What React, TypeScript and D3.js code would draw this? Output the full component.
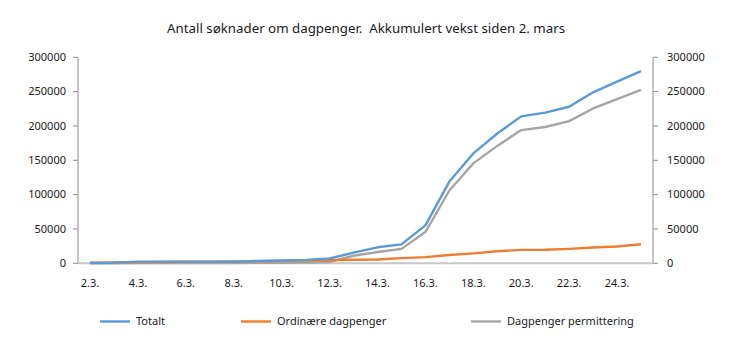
import React from "react";
import * as d3 from "d3";

const categories = ["2.3.","3.3.","4.3.","5.3.","6.3.","7.3.","8.3.","9.3.","10.3.","11.3.","12.3.","13.3.","14.3.","15.3.","16.3.","17.3.","18.3.","19.3.","20.3.","21.3.","22.3.","23.3.","24.3.","25.3."];
const tickLabelsX = ["2.3.","4.3.","6.3.","8.3.","10.3.","12.3.","14.3.","16.3.","18.3.","20.3.","22.3.","24.3."];
const totalt = [500,1000,2500,2500,2500,2500,2500,3500,4000,5000,7000,15500,23300,27500,55300,119000,160000,189000,214000,219500,228000,249000,264500,280000];
const ordinaere = [1000,1200,1500,2000,2200,2400,2600,3000,3500,4000,4500,5200,5600,7500,9000,12000,14500,17500,19500,19700,21000,23000,24500,27700];
const permittering = [0,0,500,500,500,500,500,600,700,1000,2000,11000,16500,21000,45500,106000,145500,171000,194000,198500,207000,225500,239000,252500];
const yTicks = [0,50000,100000,150000,200000,250000,300000];
const title = "Antall søknader om dagpenger.  Akkumulert vekst siden 2. mars";
const seriesNames = ["Totalt","Ordinære dagpenger","Dagpenger permittering"];
const colors = ["#5b9bd5","#ed7d31","#a5a5a5"];

export default function App() {
  const W = 730, H = 346;
  const left = 78, right = 653, top = 57.3, bottom = 263.3;
  const x = d3.scaleBand<string>().domain(categories).range([left, right]);
  const y = d3.scaleLinear().domain([0, 300000]).range([bottom, top]);
  const cx = (c: string) => (x(c) as number) + x.bandwidth() / 2;
  const line = d3.line<number>().x((_, i) => cx(categories[i])).y((v) => y(v));
  const allSeries = [totalt, ordinaere, permittering];
  const font = "'Noto Sans', sans-serif";
  const legendX = [100, 241, 471];
  return (
    <svg width={W} height={H} style={{ position: "absolute", left: 0, top: 0 }} fontFamily={font}>
      <rect width={W} height={H} fill="#fff" />
      <text x={366} y={33} textAnchor="middle" fontSize={13.3} fill="#1a1a1a" style={{ whiteSpace: "pre" }}>{title}</text>
      {/* left axis */}
      <line x1={left} x2={left} y1={top} y2={bottom} stroke="#8c8c8c" strokeWidth={1} />
      {yTicks.map((t) => (
        <g key={"l" + t}>
          <line x1={left - 5} x2={left} y1={y(t)} y2={y(t)} stroke="#8c8c8c" strokeWidth={1} />
          <text x={66} y={y(t)} dy="0.35em" textAnchor="end" fontSize={11} fill="#1a1a1a">{t}</text>
        </g>
      ))}
      {/* right axis */}
      <line x1={right} x2={right} y1={top} y2={bottom} stroke="#8c8c8c" strokeWidth={1} />
      {yTicks.map((t) => (
        <g key={"r" + t}>
          <line x1={right} x2={right + 5} y1={y(t)} y2={y(t)} stroke="#8c8c8c" strokeWidth={1} />
          <text x={667} y={y(t)} dy="0.35em" textAnchor="start" fontSize={11} fill="#1a1a1a">{t}</text>
        </g>
      ))}
      {/* x axis */}
      <line x1={left} x2={right} y1={bottom} y2={bottom} stroke="#c8c8c8" strokeWidth={2} />
      {tickLabelsX.map((c) => (
        <text key={c} x={cx(c)} y={287} textAnchor="middle" fontSize={11} fill="#1a1a1a">{c}</text>
      ))}
      {/* lines */}
      {[2, 1, 0].map((i) => (
        <path key={i} d={line(allSeries[i]) as string} fill="none" stroke={colors[i]} strokeWidth={2.4} strokeLinejoin="round" />
      ))}
      {/* legend */}
      {seriesNames.map((n, i) => (
        <g key={n}>
          <line x1={legendX[i]} x2={legendX[i] + 30} y1={321.5} y2={321.5} stroke={colors[i]} strokeWidth={2.4} />
          <text x={legendX[i] + 36} y={321.5} dy="0.35em" fontSize={11} fill="#1a1a1a">{n}</text>
        </g>
      ))}
    </svg>
  );
}
